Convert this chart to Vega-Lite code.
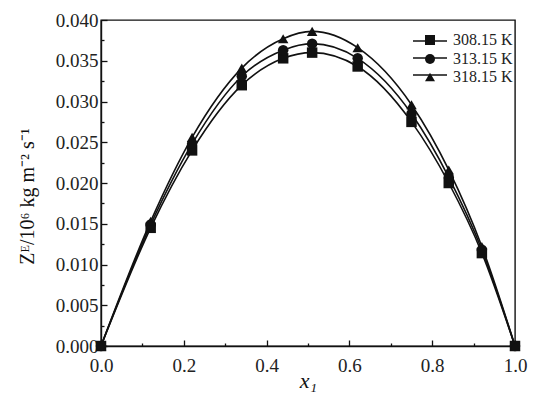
{
  "$schema": "https://vega.github.io/schema/vega-lite/v6.json",
  "width": 414,
  "height": 326,
  "autosize": {"type": "none"},
  "padding": {"left": 101, "top": 20, "right": 23, "bottom": 53},
  "background": "white",
  "config": {
    "font": "Liberation Serif",
    "view": {"stroke": "#111", "strokeWidth": 1.4},
    "axis": {
      "domainColor": "#111",
      "domainWidth": 1.4,
      "tickColor": "#111",
      "tickWidth": 1.3,
      "grid": false,
      "labelColor": "#222",
      "labelFlush": false,
      "titleFont": "Liberation Serif",
      "titleFontWeight": "normal",
      "titleColor": "#111"
    },
    "legend": {
      "labelFont": "Liberation Serif",
      "labelFontSize": 16,
      "labelColor": "#222"
    }
  },
  "data": {
    "values": [
      {"x1": 0.00, "ZE": 0.0000, "T": "308.15 K"},
      {"x1": 0.12, "ZE": 0.0145, "T": "308.15 K"},
      {"x1": 0.22, "ZE": 0.0240, "T": "308.15 K"},
      {"x1": 0.34, "ZE": 0.0320, "T": "308.15 K"},
      {"x1": 0.44, "ZE": 0.0353, "T": "308.15 K"},
      {"x1": 0.51, "ZE": 0.0360, "T": "308.15 K"},
      {"x1": 0.62, "ZE": 0.0343, "T": "308.15 K"},
      {"x1": 0.75, "ZE": 0.0275, "T": "308.15 K"},
      {"x1": 0.84, "ZE": 0.0200, "T": "308.15 K"},
      {"x1": 0.92, "ZE": 0.0114, "T": "308.15 K"},
      {"x1": 1.00, "ZE": 0.0000, "T": "308.15 K"},
      {"x1": 0.00, "ZE": 0.0000, "T": "313.15 K"},
      {"x1": 0.12, "ZE": 0.0149, "T": "313.15 K"},
      {"x1": 0.22, "ZE": 0.0248, "T": "313.15 K"},
      {"x1": 0.34, "ZE": 0.0331, "T": "313.15 K"},
      {"x1": 0.44, "ZE": 0.0363, "T": "313.15 K"},
      {"x1": 0.51, "ZE": 0.0371, "T": "313.15 K"},
      {"x1": 0.62, "ZE": 0.0353, "T": "313.15 K"},
      {"x1": 0.75, "ZE": 0.0285, "T": "313.15 K"},
      {"x1": 0.84, "ZE": 0.0207, "T": "313.15 K"},
      {"x1": 0.92, "ZE": 0.0118, "T": "313.15 K"},
      {"x1": 1.00, "ZE": 0.0000, "T": "313.15 K"},
      {"x1": 0.00, "ZE": 0.0000, "T": "318.15 K"},
      {"x1": 0.12, "ZE": 0.0153, "T": "318.15 K"},
      {"x1": 0.22, "ZE": 0.0256, "T": "318.15 K"},
      {"x1": 0.34, "ZE": 0.0341, "T": "318.15 K"},
      {"x1": 0.44, "ZE": 0.0377, "T": "318.15 K"},
      {"x1": 0.51, "ZE": 0.0386, "T": "318.15 K"},
      {"x1": 0.62, "ZE": 0.0366, "T": "318.15 K"},
      {"x1": 0.75, "ZE": 0.0296, "T": "318.15 K"},
      {"x1": 0.84, "ZE": 0.0216, "T": "318.15 K"},
      {"x1": 0.92, "ZE": 0.0122, "T": "318.15 K"},
      {"x1": 1.00, "ZE": 0.0000, "T": "318.15 K"}
    ]
  },
  "encoding": {
    "x": {
      "field": "x1",
      "type": "quantitative",
      "scale": {"domain": [0, 1], "nice": false},
      "axis": {
        "values": [0, 0.1, 0.2, 0.3, 0.4, 0.5, 0.6, 0.7, 0.8, 0.9, 1.0],
        "format": ".1f",
        "labelExpr": "round(datum.value * 10) % 2 === 1 ? '' : datum.label",
        "labelFont": "Liberation Serif",
        "labelFontSize": 19,
        "tickSize": {"condition": {"test": "round(datum.value * 10) % 2 === 1", "value": -3}, "value": -6},
        "labelPadding": 16,
        "title": "x₁",
        "titleFontSize": 22,
        "titleFontStyle": "italic",
        "titlePadding": -5
      }
    },
    "y": {
      "field": "ZE",
      "type": "quantitative",
      "scale": {"domain": [0, 0.04], "nice": false},
      "axis": {
        "values": [0, 0.0025, 0.005, 0.0075, 0.01, 0.0125, 0.015, 0.0175, 0.02, 0.0225, 0.025, 0.0275, 0.03, 0.0325, 0.035, 0.0375, 0.04],
        "format": ".3f",
        "labelExpr": "round(datum.value * 400) % 2 === 1 ? '' : datum.label",
        "labelFont": "Liberation Serif",
        "labelFontSize": 19,
        "tickSize": {"condition": {"test": "round(datum.value * 400) % 2 === 1", "value": -3}, "value": -6},
        "labelPadding": 9,
        "title": "Zᴱ/10⁶ kg m⁻² s⁻¹",
        "titleFontSize": 20,
        "titlePadding": 18,
        "titleY": 176
      }
    }
  },
  "layer": [
    {
      "mark": {"type": "line", "interpolate": "monotone", "strokeWidth": 1.6},
      "encoding": {
        "stroke": {
          "field": "T",
          "type": "nominal",
          "scale": {"domain": ["308.15 K", "313.15 K", "318.15 K"], "range": ["#111", "#111", "#111"]},
          "legend": {
            "title": null,
            "orient": "none",
            "legendX": 321,
            "legendY": 13,
            "symbolType": "M-3.4,0H3.4",
            "symbolSize": 100,
            "symbolStrokeWidth": 1.6,
            "labelExpr": "''",
            "rowPadding": 1
          }
        }
      }
    },
    {
      "mark": {"type": "point", "filled": true, "opacity": 1, "color": "#111", "size": 110},
      "encoding": {
        "shape": {
          "field": "T",
          "type": "nominal",
          "scale": {"range": ["square", "circle", "triangle-up"]},
          "legend": {
            "title": null,
            "orient": "none",
            "legendX": 321,
            "legendY": 12,
            "symbolSize": 100,
            "symbolFillColor": "#111",
            "symbolStrokeWidth": 1.6,
            "symbolOpacity": 1,
            "labelOffset": 15,
            "rowPadding": 1
          }
        }
      }
    }
  ]
}
